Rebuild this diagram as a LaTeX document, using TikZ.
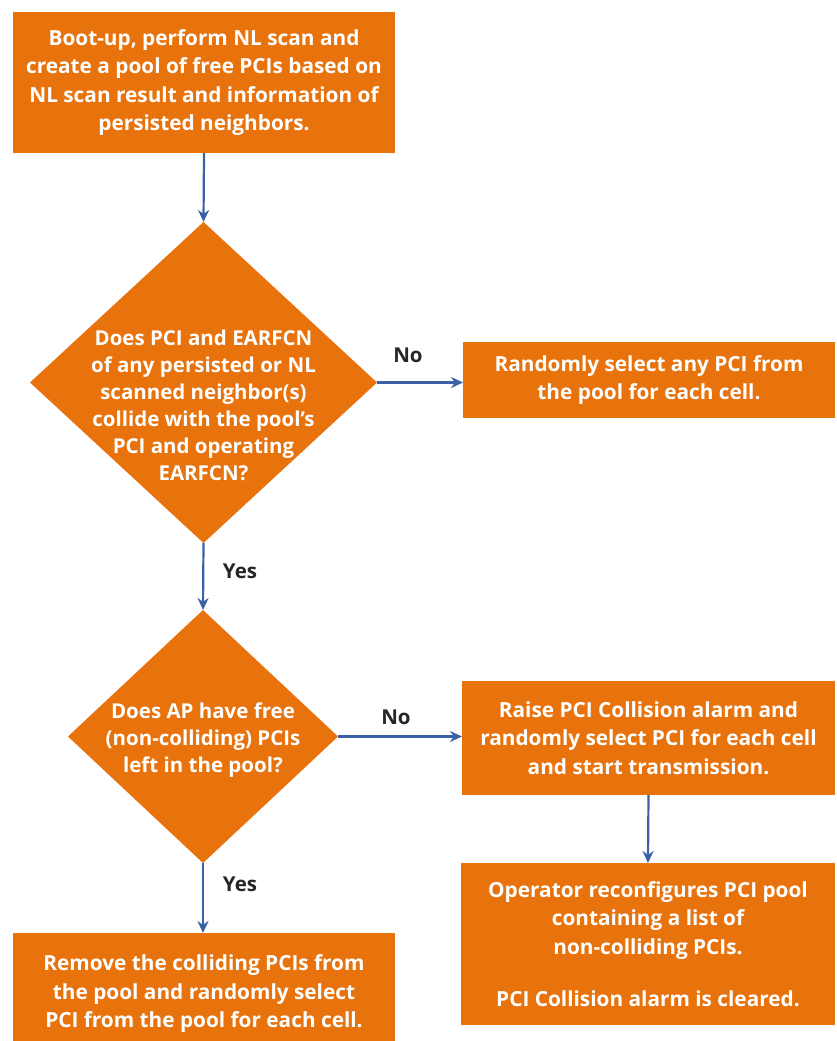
\documentclass[tikz,border=0pt]{standalone}
\usepackage{fontspec}
\setmainfont{Open Sans}
\usetikzlibrary{shapes.geometric,arrows.meta}
\definecolor{orng}{RGB}{232,114,12}
\definecolor{arr}{RGB}{59,96,168}
\begin{document}
\begin{tikzpicture}[x=1pt,y=-1pt,
  box/.style={fill=orng, draw=none, inner sep=0pt, outer sep=0pt, text=white,
    font=\bfseries\fontsize{20.8}{28.5}\selectfont, align=center},
  dia/.style={shape=diamond, fill=orng, draw=none, inner sep=0pt, outer sep=0pt},
  dtext/.style={text=white, font=\bfseries\fontsize{20.5}{27}\selectfont, align=center},
  conn/.style={draw=arr, line width=2.2pt, -{Stealth[length=12pt,width=11pt]}},
  lbl/.style={text=black!85, font=\bfseries\fontsize{20.5}{24}\selectfont}]
\useasboundingbox (0,0) rectangle (836,1041);

\node[box, minimum width=382pt, minimum height=141pt] (b1) at (204,82.5)
  {Boot-up, perform NL scan and\\create a pool of free PCIs based on\\NL scan result and information of\\persisted neighbors.};

\node[dia, minimum width=347pt, minimum height=321pt] (d1) at (203.5,382.5) {};
\node[dtext] (d1t) at (203.5,405)
  {Does PCI and EARFCN\\of any persisted or NL\\scanned neighbor(s)\\collide with the pool’s\\PCI and operating\\EARFCN?};

\node[box, minimum width=372pt, minimum height=76pt] (b2) at (649,380)
  {Randomly select any PCI from\\the pool for each cell.};

\node[dia, minimum width=270pt, minimum height=253pt] (d2) at (203,736.5) {};
\node[dtext] (d2t) at (203,740)
  {Does AP have free\\(non-colliding) PCIs\\left in the pool?};

\node[box, minimum width=373pt, minimum height=114pt] (b3) at (648.5,738)
  {Raise PCI Collision alarm and\\randomly select PCI for each cell\\and start transmission.};

\node[box, minimum width=374pt, minimum height=162pt] (b4) at (648,944)
  {Operator reconfigures PCI pool\\containing a list of\\non-colliding PCIs.\\[24pt]PCI Collision alarm is cleared.};

\node[box, minimum width=382pt, minimum height=122pt] (b5) at (204,994)
  {Remove the colliding PCIs from\\the pool and randomly select\\PCI from the pool for each cell.};

\draw[conn] (b1.south) -- (d1.north);
\draw[conn] (d1.east) -- (d1.east -| b2.west);
\draw[conn] (d1.south) -- (d2.north);
\draw[conn] (d2.east) -- (d2.east -| b3.west);
\draw[conn] (b3.south) -- (b4.north);
\draw[conn] (d2.south) -- (d2.south |- b5.north);

\node[lbl] (l1) at (408,355) {No};
\node[lbl] (l2) at (396,717) {No};
\node[lbl] (l3) at (240,571) {Yes};
\node[lbl] (l4) at (240,884) {Yes};
\end{tikzpicture}
\end{document}
